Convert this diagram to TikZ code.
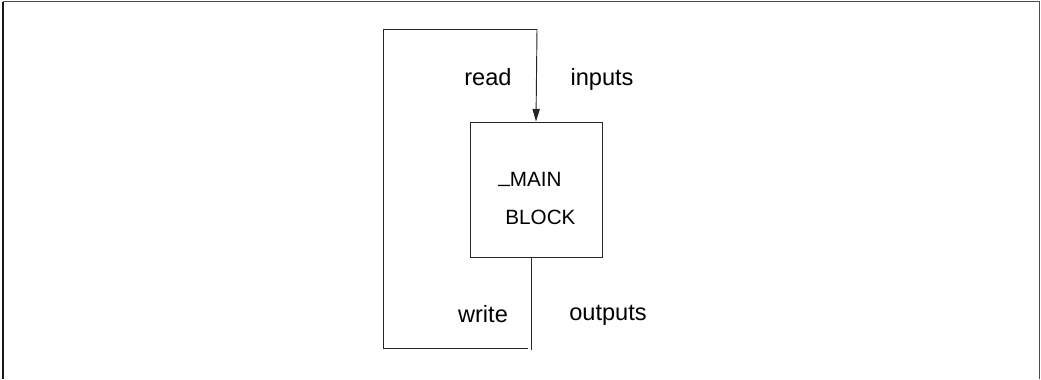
\documentclass[tikz,border=0pt]{standalone}
\usepackage{fontspec}
\setmainfont{Liberation Sans}
\usetikzlibrary{positioning}
\usetikzlibrary{arrows.meta}

\tikzset{
  wire/.style={line width=0.7pt, black!85},
  lbl/.style={anchor=base, inner sep=0pt, font=\fontsize{17.7}{20}\selectfont},
  boxtxt/.style={anchor=base west, inner sep=0pt, font=\fontsize{15.5}{18}\selectfont},
  mainbox/.style={draw, line width=0.7pt, black!85, minimum width=99pt,
                  minimum height=101.25pt, inner sep=0pt}
}

\begin{document}
\begin{tikzpicture}[x=0.75pt,y=-0.75pt,>={Triangle[length=9.5pt,width=5.5pt]},semithick]
\useasboundingbox (0,0) rectangle (1041,379);
% outer frame
\draw[line width=1.4pt, black!90] (3,379) -- (3,1.5);
\draw[line width=1pt, black!70] (3,1.5) -- (1039.5,1.5) -- (1039.5,379);

\node[mainbox] (main) at (536,189.5) {};
\node[boxtxt] (mtxt) at (498,186) {\raisebox{3pt}{\_}MAIN};
\node[boxtxt] (btxt) at (505,224) {BLOCK};

\coordinate (lt) at (383,29);
\coordinate (rt) at (537,29);
\coordinate (lb) at (383,348);
\coordinate (wb) at (528,348);
\coordinate (ob) at (531,350);

% read loop
\draw[wire] (lb) -- (lt) -- (rt);
\draw[wire,->] (rt) -- (main.north);
% write side
\draw[wire] (lb) -- (wb);
\draw[wire] (main.south -| ob) -- (ob);

\node[lbl] (read) at (488,85) {read};
\node[lbl] (inputs) at (602,85) {inputs};
\node[lbl] (write) at (483,322) {write};
\node[lbl] (outputs) at (608,320) {outputs};
\end{tikzpicture}
\end{document}
